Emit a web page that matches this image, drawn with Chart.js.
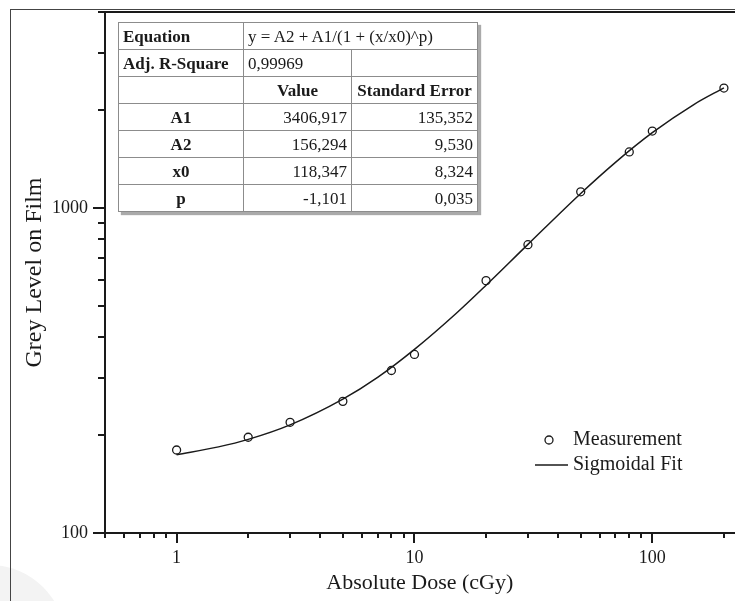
<!DOCTYPE html>
<html>
<head>
<meta charset="utf-8">
<script src="https://cdn.jsdelivr.net/npm/chart.js@4.4.1/dist/chart.umd.min.js"></script>
<style>
  html, body { margin: 0; padding: 0; background: #fff; overflow: hidden; }
  #wrap { position: relative; width: 735px; height: 601px; overflow: hidden; }
  #ghost { position: absolute; left: -85px; top: 565px; width: 150px; height: 150px; border-radius: 50%; background: #f3f3f3; }
  #frame { position: absolute; left: 10px; top: 9px; width: 760px; height: 640px; border-left: 1.5px solid #444; border-top: 1.5px solid #444; }
  canvas { position: absolute; left: 0; top: 0; }
  #fitTable { position: absolute; left: 118px; top: 22px; width: 359px; table-layout: fixed; border-collapse: collapse;
    font-family: 'Liberation Serif', serif; font-size: 17px; color: #1a1a1a; background: #fff; box-shadow: 3px 3px 1px #aaa; }
  #fitTable td { border: 1px solid #8c8c8c; height: 26px; padding: 0 4px; line-height: 1; white-space: nowrap; }
  #fitTable .b { font-weight: bold; }
  #fitTable .c { text-align: center; }
  #fitTable .r { text-align: right; }
</style>
</head>
<body>
<div id="wrap">
  <div id="ghost"></div>
  <div id="frame"></div>
  <canvas id="myChart" width="740" height="601"></canvas>
  <table id="fitTable">
    <colgroup><col style="width:125px"><col style="width:108px"><col style="width:126px"></colgroup>
    <tbody id="fitBody"></tbody>
  </table>
</div>
<script>
// measured points
const doseValues = [1, 2, 3, 5, 8, 10, 20, 30, 50, 80, 100, 200];
const greyValues = [180, 197, 219, 254, 316, 354, 597, 770, 1120, 1485, 1722, 2334];

// fit curve
const fitDose = [1, 1.5, 2, 3, 5, 7, 10, 15, 20, 30, 50, 70, 100, 150, 200];
const fitGrey = [174, 184, 194, 215, 258, 301, 367, 474, 578, 772, 1107, 1380, 1702, 2081, 2338];

// axes
const xMajorTicks = [1, 10, 100];
const xTickLabels = ['1', '10', '100'];
const xMinorTicks = [0.5, 0.6, 0.7, 0.8, 0.9, 2, 3, 4, 5, 6, 7, 8, 9, 20, 30, 40, 50, 60, 70, 80, 90, 200];
const yMajorTicks = [100, 1000];
const yTickLabels = ['100', '1000'];
const yMinorTicks = [200, 300, 400, 500, 600, 700, 800, 900, 2000, 3000, 4000];

// fit table
const equationText = 'y = A2 + A1/(1 + (x/x0)^p)';
const adjRSquare = '0,99969';
const paramNames = ['A1', 'A2', 'x0', 'p'];
const paramValues = ['3406,917', '156,294', '118,347', '-1,101'];
const paramErrors = ['135,352', '9,530', '8,324', '0,035'];

const serif = 'Liberation Serif';
const ink = '#1a1a1a';

// build the table
const body = document.getElementById('fitBody');
let rows = '<tr><td class="b">Equation</td><td colspan="2">' + equationText + '</td></tr>';
rows += '<tr><td class="b">Adj. R-Square</td><td>' + adjRSquare + '</td><td></td></tr>';
rows += '<tr><td></td><td class="b c">Value</td><td class="b c">Standard Error</td></tr>';
paramNames.forEach((n, i) => {
  rows += '<tr><td class="b c">' + n + '</td><td class="r">' + paramValues[i] + '</td><td class="r">' + paramErrors[i] + '</td></tr>';
});
body.innerHTML = rows;

const axisDecor = {
  id: 'axisDecor',
  afterDraw(chart) {
    const { ctx, chartArea, scales: { x, y } } = chart;
    ctx.save();
    ctx.strokeStyle = ink;
    ctx.lineWidth = 2;
    ctx.beginPath();
    ctx.moveTo(chartArea.left - 1, chartArea.top);
    ctx.lineTo(chart.width, chartArea.top);
    // x ticks
    xMinorTicks.forEach(v => {
      const px = Math.round(x.getPixelForValue(v));
      ctx.moveTo(px, chartArea.bottom);
      ctx.lineTo(px, chartArea.bottom + 5);
    });
    xMajorTicks.forEach(v => {
      const px = Math.round(x.getPixelForValue(v));
      ctx.moveTo(px, chartArea.bottom);
      ctx.lineTo(px, chartArea.bottom + 10);
    });
    // y ticks
    yMinorTicks.forEach(v => {
      const py = Math.round(y.getPixelForValue(v));
      ctx.moveTo(chartArea.left, py);
      ctx.lineTo(chartArea.left - 7, py);
    });
    yMajorTicks.forEach(v => {
      const py = Math.round(y.getPixelForValue(v));
      ctx.moveTo(chartArea.left, py);
      ctx.lineTo(chartArea.left - 12, py);
    });
    ctx.stroke();

    // legend
    const ds = chart.data.datasets;
    ctx.font = '20px "' + serif + '"';
    ctx.fillStyle = ink;
    ctx.textBaseline = 'middle';
    ctx.textAlign = 'left';
    ctx.lineWidth = 1.3;
    ctx.beginPath();
    ctx.arc(549, 440, 4, 0, Math.PI * 2);
    ctx.stroke();
    ctx.fillText(ds[0].label, 573, 440);
    ctx.lineWidth = 1.5;
    ctx.beginPath();
    ctx.moveTo(535, 465);
    ctx.lineTo(568, 465);
    ctx.stroke();
    ctx.fillText(ds[1].label, 573, 465);
    ctx.restore();
  }
};

new Chart(document.getElementById('myChart').getContext('2d'), {
  data: {
    datasets: [
      {
        type: 'scatter',
        label: 'Measurement',
        data: doseValues.map((d, i) => ({ x: d, y: greyValues[i] })),
        pointStyle: 'circle',
        pointRadius: 4,
        borderWidth: 1.3,
        borderColor: ink,
        backgroundColor: 'rgba(255,255,255,0)',
        order: 0
      },
      {
        type: 'line',
        label: 'Sigmoidal Fit',
        data: fitDose.map((d, i) => ({ x: d, y: fitGrey[i] })),
        borderColor: ink,
        borderWidth: 1.5,
        pointRadius: 0,
        fill: false,
        cubicInterpolationMode: 'monotone',
        order: 1
      }
    ]
  },
  options: {
    responsive: false,
    animation: false,
    devicePixelRatio: 1,
    layout: { padding: { top: 12, left: 0, right: 0, bottom: 0 } },
    plugins: { legend: { display: false }, tooltip: { enabled: false } },
    scales: {
      x: {
        type: 'logarithmic',
        min: 0.5,
        max: 222,
        afterBuildTicks: s => { s.ticks = xMajorTicks.map(v => ({ value: v })); },
        afterFit: s => { s.height = 68; s.paddingLeft = 0; s.paddingRight = 0; },
        grid: { display: false },
        border: { display: true, color: ink, width: 2 },
        ticks: {
          autoSkip: false, maxRotation: 0, padding: 6, color: ink,
          font: { family: serif, size: 18 },
          callback: v => xTickLabels[xMajorTicks.indexOf(v)]
        },
        title: {
          display: true, text: 'Absolute Dose (cGy)', color: ink,
          font: { family: serif, size: 22 }, padding: { bottom: 5 }
        }
      },
      y: {
        type: 'logarithmic',
        min: 100,
        max: 4000,
        afterBuildTicks: s => { s.ticks = yMajorTicks.map(v => ({ value: v })); },
        afterFit: s => { s.width = 105; s.paddingTop = 0; s.paddingBottom = 0; },
        grid: { display: false },
        border: { display: true, color: ink, width: 2 },
        ticks: {
          autoSkip: false, padding: 9, color: ink,
          font: { family: serif, size: 18 },
          callback: v => yTickLabels[yMajorTicks.indexOf(v)]
        },
        title: {
          display: true, text: 'Grey Level on Film', color: ink,
          font: { family: serif, size: 24 }, padding: { top: 20 }
        }
      }
    }
  },
  plugins: [axisDecor]
});
</script>
</body>
</html>
